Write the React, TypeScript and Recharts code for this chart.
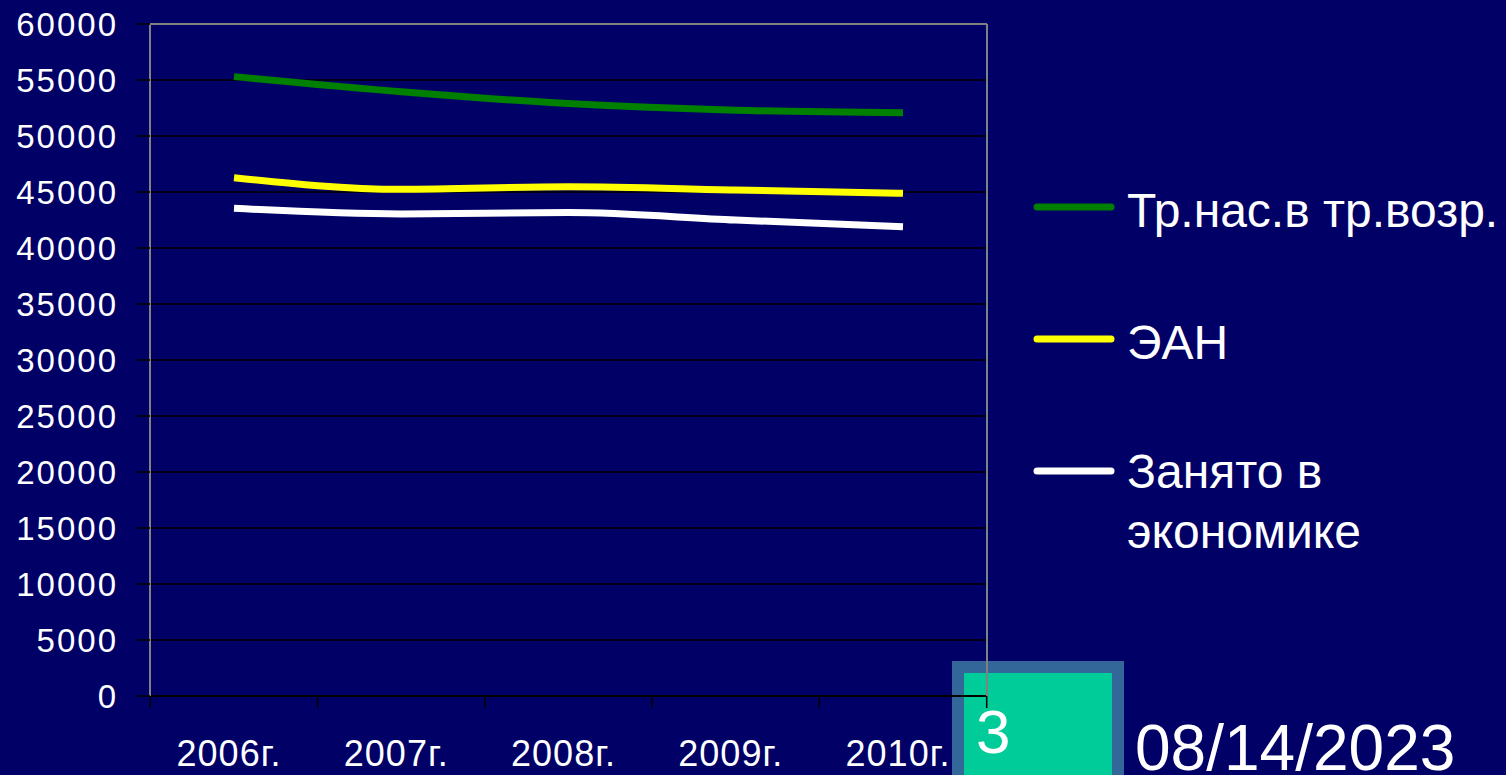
import React from 'react';
import { LineChart, Line, XAxis, YAxis, CartesianGrid, Legend } from 'recharts';

const years = ['2006г.', '2007г.', '2008г.', '2009г.', '2010г.'];
const workingAge = [55300, 53950, 52900, 52300, 52080];
const activePop = [46280, 45240, 45470, 45180, 44880];
const employed = [43540, 43040, 43160, 42500, 41900];
const yTicks = [0, 5000, 10000, 15000, 20000, 25000, 30000, 35000, 40000, 45000, 50000, 55000, 60000];

const seriesNames = ['Тр.нас.в тр.возр.', 'ЭАН', 'Занято в экономике'];
const seriesColors = ['#008000', '#FFFF00', '#FFFFFF'];

const data = years.map((year, i) => ({
  year,
  work: workingAge[i],
  ean: activePop[i],
  emp: employed[i],
}));

const W = 1506;
const H = 775;
const PLOT_LEFT = 150;
const PLOT_RIGHT = 987;
const FONT = '"Liberation Sans", Arial, sans-serif';
const BG = '#000066';

const XTick = ({ x, y, payload, index }: any) => {
  const half = (PLOT_RIGHT - PLOT_LEFT) / years.length / 2;
  return (
    <g>
      <line x1={x - half} x2={x - half} y1={y - 12} y2={y} stroke="#000" strokeWidth={1.5} />
      {index === years.length - 1 && (
        <line x1={x + half} x2={x + half} y1={y - 12} y2={y} stroke="#000" strokeWidth={1.5} />
      )}
      <text x={x - 5} y={y + 58} textAnchor="middle" fill="#fff" fontSize={36} fontFamily={FONT} letterSpacing={1}>
        {payload.value}
      </text>
    </g>
  );
};

const LegendBox = () => (
  <svg width={476} height={420} style={{ overflow: 'visible' }}>
    {seriesNames.map((name, i) => {
      const ly = 47 + i * 132;
      const words = i === 2 ? ['Занято в', 'экономике'] : [name];
      return (
        <g key={name}>
          <line x1={9} x2={83} y1={ly} y2={ly} stroke={seriesColors[i]} strokeWidth={7} strokeLinecap="round" />
          <text x={99} y={ly + 20 - (i === 2 ? 3 : 0)} fill="#fff" fontSize={48} fontFamily={FONT}>
            {words.map((w, j) => (
              <tspan key={j} x={99} dy={j === 0 ? 0 : 60}>{w}</tspan>
            ))}
          </text>
        </g>
      );
    })}
  </svg>
);

export default function App() {
  return (
    <div style={{ position: 'absolute', left: 0, top: 0, width: W, height: H, background: BG, overflow: 'hidden' }}>
      <svg width={W} height={H} style={{ position: 'absolute', left: 0, top: 0 }}>
        <rect x={952} y={661} width={172} height={120} fill="#336699" />
        <rect x={964} y={673} width={148} height={110} fill="#00CC99" />
        <text x={976} y={753} fill="#fff" fontSize={62} fontFamily={FONT}>3</text>
        <text x={1135} y={770} fill="#fff" fontSize={64} fontFamily={FONT}>08/14/2023</text>
      </svg>
      <div style={{ position: 'absolute', left: 0, top: 0 }}>
        <LineChart width={W} height={H} data={data} margin={{ top: 23, right: W - PLOT_RIGHT - 1, bottom: 0, left: 0 }}>
          <CartesianGrid vertical={false} stroke="#000" strokeWidth={1.5} />
          <XAxis
            dataKey="year"
            height={79}
            padding={{ left: 84, right: 84 }}
            axisLine={{ stroke: '#000', strokeWidth: 2 }}
            tickLine={false}
            tickSize={12}
            tickMargin={0}
            tick={<XTick />}
            interval={0}
          />
          <XAxis
            xAxisId="top"
            dataKey="year"
            orientation="top"
            height={1}
            padding={{ left: 84, right: 84 }}
            axisLine={{ stroke: '#808080', strokeWidth: 2 }}
            tick={false}
            tickLine={false}
          />
          <YAxis
            width={PLOT_LEFT}
            domain={[0, 60000]}
            ticks={yTicks}
            interval={0}
            axisLine={{ stroke: '#808080', strokeWidth: 2 }}
            tickLine={{ stroke: '#000', strokeWidth: 1.5 }}
            tickSize={13}
            tickMargin={19}
            tick={{ fill: '#fff', fontSize: 33, fontFamily: FONT, letterSpacing: 2 }}
          />
          <YAxis
            yAxisId="right"
            orientation="right"
            width={1}
            domain={[0, 60000]}
            axisLine={{ stroke: '#808080', strokeWidth: 2 }}
            tick={false}
            tickLine={false}
          />
          <Legend
            content={<LegendBox />}
            wrapperStyle={{ position: 'absolute', left: 1028, top: 160, width: 0, height: 0, overflow: 'visible' }}
          />
          <Line type="monotone" dataKey="work" name={seriesNames[0]} stroke={seriesColors[0]} strokeWidth={7} dot={false} isAnimationActive={false} />
          <Line type="monotone" dataKey="ean" name={seriesNames[1]} stroke={seriesColors[1]} strokeWidth={7} dot={false} isAnimationActive={false} />
          <Line type="monotone" dataKey="emp" name={seriesNames[2]} stroke={seriesColors[2]} strokeWidth={7} dot={false} isAnimationActive={false} />
        </LineChart>
      </div>
    </div>
  );
}
